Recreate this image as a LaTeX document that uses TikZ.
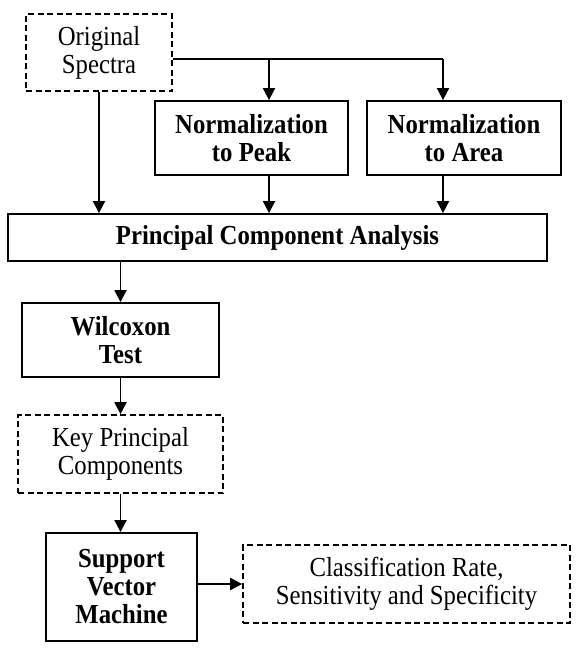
\documentclass[tikz,border=0pt]{standalone}
\usepackage{fontspec}
\setmainfont{Liberation Serif}[FakeStretch=0.9]
\usetikzlibrary{arrows.meta}
\begin{document}
\begin{tikzpicture}[x=1pt,y=-1pt,
  box/.style={draw, line width=1.8pt, inner sep=0pt, align=center, font=\fontsize{27.5}{28}\selectfont},
  solidbox/.style={box, font=\fontsize{27.5}{28}\selectfont\bfseries},
  dashbox/.style={box, line width=1.6pt, dash pattern=on 6pt off 3.5pt},
  arr/.style={line width=1.8pt, -{Triangle[length=12pt,width=12pt]}},
  ln/.style={line width=1.8pt}]
\useasboundingbox (0,0) rectangle (579,653);
\node[dashbox, minimum width=146pt, minimum height=77pt] (orig) at (99,52.5) {Original\\Spectra};
\node[solidbox, minimum width=193pt, minimum height=74pt] (peak) at (251.5,138) {Normalization\\to Peak};
\node[solidbox, minimum width=194pt, minimum height=74pt] (area) at (464,138) {Normalization\\to Area};
\node[solidbox, minimum width=539pt, minimum height=47pt] (pca) at (277.5,237.5) {Principal Component Analysis};
\node[solidbox, minimum width=197pt, minimum height=74pt] (wil) at (120.5,340) {Wilcoxon\\Test};
\node[dashbox, minimum width=205pt, minimum height=78pt] (key) at (120.5,454) {Key Principal\\Components};
\node[solidbox, minimum width=151pt, minimum height=108pt] (svm) at (121.5,587) {Support\\Vector\\Machine};
\node[dashbox, minimum width=327pt, minimum height=78pt] (cls) at (406.5,584) {Classification Rate,\\Sensitivity and Specificity};
\coordinate (j1) at (269,59);
\coordinate (j2) at (443,59);
\draw[ln] (orig.east |- j2) -- (j2);
\draw[arr] (j1) -- (j1 |- peak.north);
\draw[arr] (j2) -- (j2 |- area.north);
\draw[arr] (orig.south) -- (orig.south |- pca.north);
\draw[arr] (peak.south -| j1) -- (j1 |- pca.north);
\draw[arr] (area.south -| j2) -- (j2 |- pca.north);
\draw[arr] (pca.south -| wil.north) -- (wil.north);
\draw[arr] (wil.south) -- (key.north);
\draw[arr] (key.south) -- (key.south |- svm.north);
\draw[arr] (svm.east |- cls.west) -- (cls.west);
\end{tikzpicture}
\end{document}
